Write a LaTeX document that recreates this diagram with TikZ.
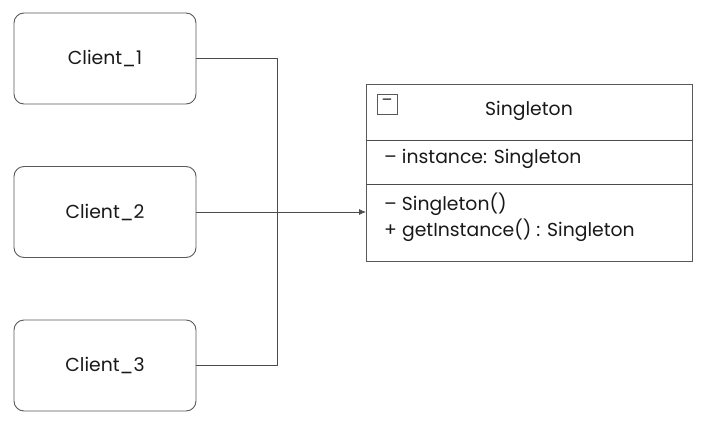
\documentclass[tikz,border=0pt]{standalone}
\usepackage{fontspec}
\setmainfont{Poppins}
\usetikzlibrary{positioning,arrows.meta}

\begin{document}
\begin{tikzpicture}[x=1pt,y=-1pt]
        \tikzstyle{every node}+=[inner sep=0pt, text=black!90, font=\fontsize{18.8}{22}\selectfont]
        \tikzstyle{client}=[draw=black!65, line width=0.9pt, rounded corners=10pt, minimum width=182pt, minimum height=91pt]
        \tikzstyle{line}=[draw=black!70, line width=0.8pt]
        \useasboundingbox (0,0) rectangle (705,426);
        % clients
        \node [client] (c1) at (105,58.5) {Client\_1};
        \node [client] (c2) at (105,212) {Client\_2};
        \node [client] (c3) at (105,365.5) {Client\_3};
        % singleton class box
        \node [draw=black!65, line width=0.9pt, minimum width=326pt, minimum height=177pt, anchor=north west] (s) at (366,84) {};
        \draw [line] ([yshift=-56pt]s.north west) -- ([yshift=-56pt]s.north east);
        \draw [line] ([yshift=-100pt]s.north west) -- ([yshift=-100pt]s.north east);
        \node [draw=black!65, line width=0.8pt, minimum size=20pt, font=\fontsize{16}{16}\selectfont] (icon) at (387,104) {\raisebox{3pt}{–}};
        \node (title) at (529,111) {Singleton};
        \node [anchor=west] (attr) at (384,159) {– instance: Singleton};
        \node [anchor=west] (m1) at (384,204) {– Singleton()};
        \node [anchor=west] (m2) at (384,230) {+ getInstance() : Singleton};
        % connectors
        \coordinate (bus) at (277,58.5);
        \draw [line] (c1.east) -- (bus) |- (c3.east);
        \draw [line, -{Latex[length=7pt,width=6pt]}] (c2.east) -- (s.west |- c2.east);
    \end{tikzpicture}
\end{document}
